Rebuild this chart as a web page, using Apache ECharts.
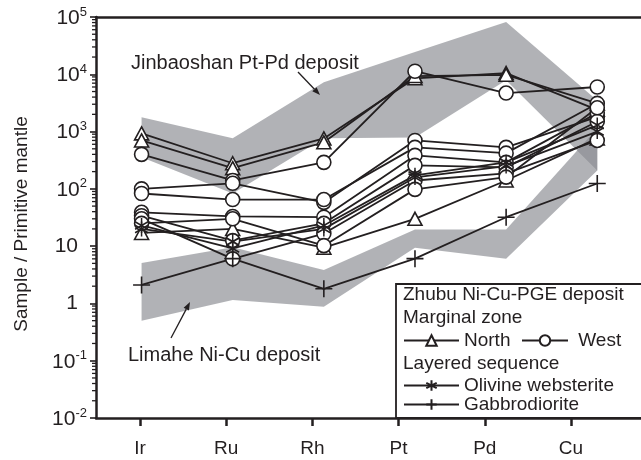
<!DOCTYPE html>
<html><head><meta charset="utf-8">
<script src="https://cdn.jsdelivr.net/npm/echarts@6/dist/echarts.min.js"></script>
<style>html,body{margin:0;padding:0;background:#fff}#c{width:641px;height:460px}</style>
</head><body><div id="c"></div>
<script>
// ---- data ----
const elements = ['Ir', 'Ru', 'Rh', 'Pt', 'Pd', 'Cu'];
const yMin = 0.01, yMax = 100000;
// Marginal zone, North (triangles)
const north1 = [930, 280, 760, 8500, 10500, 2400];
const north2 = [700, 230, 650, 9300, 9800, 3100];
const north3 = [17, 20, 9.4, 30, 140, 760];
// Marginal zone, West (circles)
const west1 = [400, 140, 290, 11300, 4700, 6000];
const west2 = [100, 125, 58, 700, 530, 1800];
const west3 = [83, 65, 65, 530, 420, 3100];
const west4 = [39, 33, 32, 384, 290, 2100];
const west5 = [34, 12.5, 25, 257, 237, 1500];
const west6 = [30, 6, 16.6, 140, 186, 700];
const west7 = [25, 30, 10.2, 98, 160, 2600];
// Layered sequence
const olivine1 = [23, 9.1, 23, 172, 290, 1300];
const olivine2 = [20, 12, 20, 158, 250, 1000];
const gabbro1 = [2.1, 6.05, 1.8, 6.05, 32, 124];
// Shaded fields (element index, value)
const jinbaoshanField = [[0,1780],[1,763],[2,7280],[3,24400],[4,81500],[5,3500],[5,210],[4,7900],[3,790],[2,763],[1,83],[0,355]];
const limaheField = [[0,5.1],[1,9.55],[2,3.85],[3,19.5],[4,19.5],[5,1140],[5,210],[4,6],[3,9.4],[2,0.875],[1,1.15],[0,0.5]];
const minorTickValues = [];
for (let d = -2; d <= 4; d++) for (let k = 2; k <= 9; k++) minorTickValues.push(k * Math.pow(10, d));

// ---- style ----
const INK = '#231f20';
const FONT = "'Liberation Sans', Arial, Helvetica, sans-serif";
const SYM = {
  North: {symbol: 'triangle', size: [14, 13]},
  West: {symbol: 'circle', size: 14},
  'Olivine websterite': {symbol: 'path://M0,-10L0,10M-8.66,-5L8.66,5M-8.66,5L8.66,-5', size: [13, 15]},
  Gabbrodiorite: {symbol: 'path://M0,-10L0,10M-10,0L10,0', size: 17}
};
function lineSeries(name, values) {
  return {
    type: 'line', name: name, xAxisIndex: 0, yAxisIndex: 0,
    data: values.map((v, i) => [i, v]),
    symbol: SYM[name].symbol, symbolSize: SYM[name].size, showAllSymbol: true,
    lineStyle: {color: INK, width: 1.8},
    itemStyle: {color: '#fff', borderColor: INK, borderWidth: 1.6},
    emphasis: {disabled: true}, z: 3, animation: false
  };
}
function fieldSeries(points) {
  return {
    type: 'custom', xAxisIndex: 0, yAxisIndex: 0, z: 1, silent: true, animation: false,
    data: points,
    renderItem: function (params, api) {
      if (params.dataIndex !== 0) return null;
      const pts = points.map(p => api.coord(p));
      return {type: 'polygon', shape: {points: pts}, style: {fill: 'rgba(140,142,147,0.68)', stroke: null}};
    }
  };
}
const minorTicks = {
  type: 'custom', xAxisIndex: 0, yAxisIndex: 0, z: 4, silent: true, animation: false, clip: false,
  data: minorTickValues.map(v => [-0.5, v]),
  renderItem: function (params, api) {
    const p = api.coord([api.value(0), api.value(1)]);
    return {type: 'line', shape: {x1: p[0] - 4, y1: p[1], x2: p[0], y2: p[1]}, style: {stroke: INK, lineWidth: 1.3}};
  }
};
function arrow(x1, y1, x2, y2) {
  const a = Math.atan2(y2 - y1, x2 - x1), L = 8, W = 3;
  const bx = x2 - L * Math.cos(a), by = y2 - L * Math.sin(a);
  return [
    {type: 'line', shape: {x1: x1, y1: y1, x2: bx, y2: by}, style: {stroke: INK, lineWidth: 1.3}, z: 10},
    {type: 'polygon', shape: {points: [[x2, y2], [bx + W * Math.sin(a), by - W * Math.cos(a)], [bx - W * Math.sin(a), by + W * Math.cos(a)]]}, style: {fill: INK}, z: 10}
  ];
}
function txt(x, y, s, size, extra) {
  return Object.assign({type: 'text', x: x, y: y, z: 10, style: {text: s, fill: INK, font: (size || 19) + 'px ' + FONT, textVerticalAlign: 'middle'}}, extra || {});
}

const chart = echarts.init(document.getElementById('c'), null, {renderer: 'canvas'});
const legendText = {color: INK, fontSize: 19, fontFamily: FONT};
chart.setOption({
  animation: false,
  backgroundColor: '#fff',
  grid: [
    {left: 96, top: 17, width: 545, height: 401, show: false},
    {left: 96.9, top: 17, width: 517.2, height: 401, show: false}
  ],
  xAxis: [
    {type: 'value', gridIndex: 0, min: -0.5, max: 5.48, position: 'bottom',
     axisLine: {show: true, onZero: false, lineStyle: {color: INK, width: 2.5}}, axisTick: {show: false}, axisLabel: {show: false}, splitLine: {show: false}},
    {type: 'category', gridIndex: 1, data: elements, boundaryGap: true,
     axisLine: {show: false}, axisTick: {show: true, alignWithLabel: true, length: 8, lineStyle: {color: INK, width: 2.5}},
     axisLabel: {margin: 21, color: INK, fontSize: 19, fontFamily: FONT}, splitLine: {show: false}},
    {type: 'value', gridIndex: 0, min: -0.5, max: 5.48, position: 'top',
     axisLine: {show: true, onZero: false, lineStyle: {color: INK, width: 2.5}}, axisTick: {show: false}, axisLabel: {show: false}, splitLine: {show: false}}
  ],
  yAxis: [
    {type: 'log', logBase: 10, gridIndex: 0, min: yMin, max: yMax, position: 'left',
     axisLine: {show: true, onZero: false, lineStyle: {color: INK, width: 2.5}},
     axisTick: {show: true, inside: false, length: 6, lineStyle: {color: INK, width: 1.6}},
     splitLine: {show: false},
     axisLabel: {margin: 9, color: INK, fontFamily: FONT,
       formatter: function (v) {
         const e = Math.round(Math.log10(v));
         if (e === 0) return '{b|1}{p|}';
         if (e === 1) return '{b|10}{p|}';
         return '{b|10}{s|' + e + '}';
       },
       rich: {
         b: {fontSize: 21, fontFamily: FONT, color: INK, verticalAlign: 'bottom'},
         s: {fontSize: 13, fontFamily: FONT, color: INK, verticalAlign: 'top', padding: [0, 0, 10, 0]},
         p: {width: 9}
       }}},
    {type: 'value', gridIndex: 1, show: false, min: 0, max: 1}
  ],
  legend: [
    {left: 403, top: 331, padding: 0, itemWidth: 55, itemHeight: 13, itemGap: 0, selectedMode: false, data: ['North'], textStyle: legendText},
    {left: 521, top: 331, padding: 0, itemWidth: 46, itemHeight: 13, itemGap: 0, selectedMode: false, data: ['West'], formatter: ' {name}', textStyle: legendText},
    {left: 403, top: 376, padding: 0, itemWidth: 55, itemHeight: 13, itemGap: 0, selectedMode: false, data: ['Olivine websterite'], textStyle: legendText},
    {left: 403, top: 395, padding: 0, itemWidth: 55, itemHeight: 13, itemGap: 0, selectedMode: false, data: ['Gabbrodiorite'], textStyle: legendText}
  ],
  graphic: [
    {type: 'rect', shape: {x: 396, y: 284, width: 260, height: 134}, style: {fill: '#fff', stroke: INK, lineWidth: 1.8}, z: 3},
    txt(403, 295, 'Zhubu Ni-Cu-PGE deposit'),
    txt(403, 318, 'Marginal zone'),
    txt(403, 364, 'Layered sequence'),
    txt(131, 63, 'Jinbaoshan Pt-Pd deposit', 20),
    txt(128, 355, 'Limahe Ni-Cu deposit', 20),
    {type: 'text', x: 22, y: 224, rotation: Math.PI / 2, z: 10,
     style: {text: 'Sample / Primitive mantle', fill: INK, font: '19px ' + FONT, textAlign: 'center', textVerticalAlign: 'middle'}}
  ].concat(arrow(298, 72, 320, 95), arrow(171, 338, 190, 302)),
  series: [
    fieldSeries(jinbaoshanField),
    fieldSeries(limaheField),
    minorTicks,
    lineSeries('North', north1), lineSeries('North', north2), lineSeries('North', north3),
    lineSeries('West', west1), lineSeries('West', west2), lineSeries('West', west3), lineSeries('West', west4),
    lineSeries('West', west5), lineSeries('West', west6), lineSeries('West', west7),
    lineSeries('Olivine websterite', olivine1), lineSeries('Olivine websterite', olivine2),
    lineSeries('Gabbrodiorite', gabbro1)
  ]
});
</script></body></html>
